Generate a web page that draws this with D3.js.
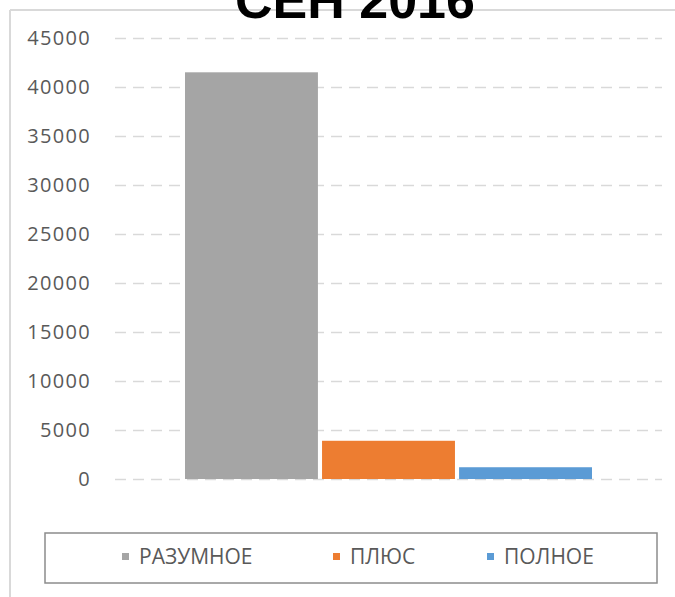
<!DOCTYPE html>
<html>
<head>
<meta charset="utf-8">
<script src="https://cdn.jsdelivr.net/npm/d3@7"></script>
<style>
  html, body { margin: 0; padding: 0; background: #fff; }
  svg { display: block; }
</style>
</head>
<body>
<svg id="chart" width="675" height="597"></svg>
<script>
// Chart data
const chartTitle = "СЕН 2016";
const categories = ["СЕН 2016"];
const seriesNames = ["РАЗУМНОЕ", "ПЛЮС", "ПОЛНОЕ"];
const seriesValues = [41500, 3900, 1200];
const seriesColors = ["#a5a5a5", "#ed7d31", "#5b9bd5"];
const yTicks = [0, 5000, 10000, 15000, 20000, 25000, 30000, 35000, 40000, 45000];

const svg = d3.select("#chart");
const W = 675, H = 597;

// Chart area frame (top and left edges)
svg.append("line").attr("x1", 10).attr("x2", W).attr("y1", 10).attr("y2", 10)
  .attr("stroke", "#d9d9d9").attr("stroke-width", 2);
svg.append("line").attr("x1", 10).attr("x2", 10).attr("y1", 10).attr("y2", H)
  .attr("stroke", "#d9d9d9").attr("stroke-width", 2);

const plot = { left: 115, right: 662, top: 38, bottom: 479 };

const y = d3.scaleLinear().domain([0, 45000]).range([plot.bottom, plot.top]);

const x0 = d3.scaleBand().domain(categories)
  .range([plot.left, plot.right]).paddingInner(0).paddingOuter(0.172);
const x1 = d3.scaleBand().domain(seriesNames)
  .range([0, x0.bandwidth()]).paddingInner(0.03).paddingOuter(0);

// Gridlines and tick labels
const yAxis = d3.axisLeft(y).tickValues(yTicks)
  .tickSize(-(plot.right - plot.left)).tickPadding(24).tickFormat(d3.format("d"));

const gAxis = svg.append("g").attr("transform", `translate(${plot.left},0)`).call(yAxis);
gAxis.select(".domain").remove();
gAxis.selectAll(".tick line")
  .attr("stroke", "#d9d9d9").attr("stroke-width", 1.6).attr("stroke-dasharray", "11,7");
gAxis.selectAll(".tick text")
  .attr("fill", "#595959")
  .style("font-family", "'Open Sans', sans-serif")
  .style("font-size", "20px")
  .style("letter-spacing", "1.3px");

// Bars
const rows = seriesNames.map((name, i) => ({ name, value: seriesValues[i], color: seriesColors[i] }));
svg.append("g").selectAll("g").data(categories).join("g")
  .attr("transform", d => `translate(${x0(d)},0)`)
  .selectAll("rect").data(rows).join("rect")
  .attr("x", d => x1(d.name))
  .attr("y", d => y(d.value))
  .attr("width", x1.bandwidth())
  .attr("height", d => y(0) - y(d.value))
  .attr("fill", d => d.color);

// Title
svg.append("text")
  .attr("x", 355).attr("y", 18)
  .attr("text-anchor", "middle")
  .style("font-family", "'Liberation Sans', Arial, sans-serif")
  .style("font-weight", "bold")
  .style("font-size", "52px")
  .attr("fill", "#000")
  .text(chartTitle);

// Legend
const legend = svg.append("g");
legend.append("rect")
  .attr("x", 45).attr("y", 533).attr("width", 612).attr("height", 50)
  .attr("fill", "#fff").attr("stroke", "#8c8c8c").attr("stroke-width", 1.5);

const legendX = [122, 333, 487];
const items = legend.selectAll("g.item").data(rows).join("g").attr("class", "item")
  .attr("transform", (d, i) => `translate(${legendX[i]},557)`);
items.append("rect").attr("x", 0).attr("y", -4).attr("width", 7).attr("height", 7)
  .attr("fill", d => d.color);
items.append("text")
  .attr("x", 17).attr("y", 0).attr("dy", "0.35em")
  .attr("fill", "#595959")
  .style("font-family", "'Open Sans', sans-serif")
  .style("font-size", "21px")
  .text(d => d.name);
</script>
</body>
</html>
